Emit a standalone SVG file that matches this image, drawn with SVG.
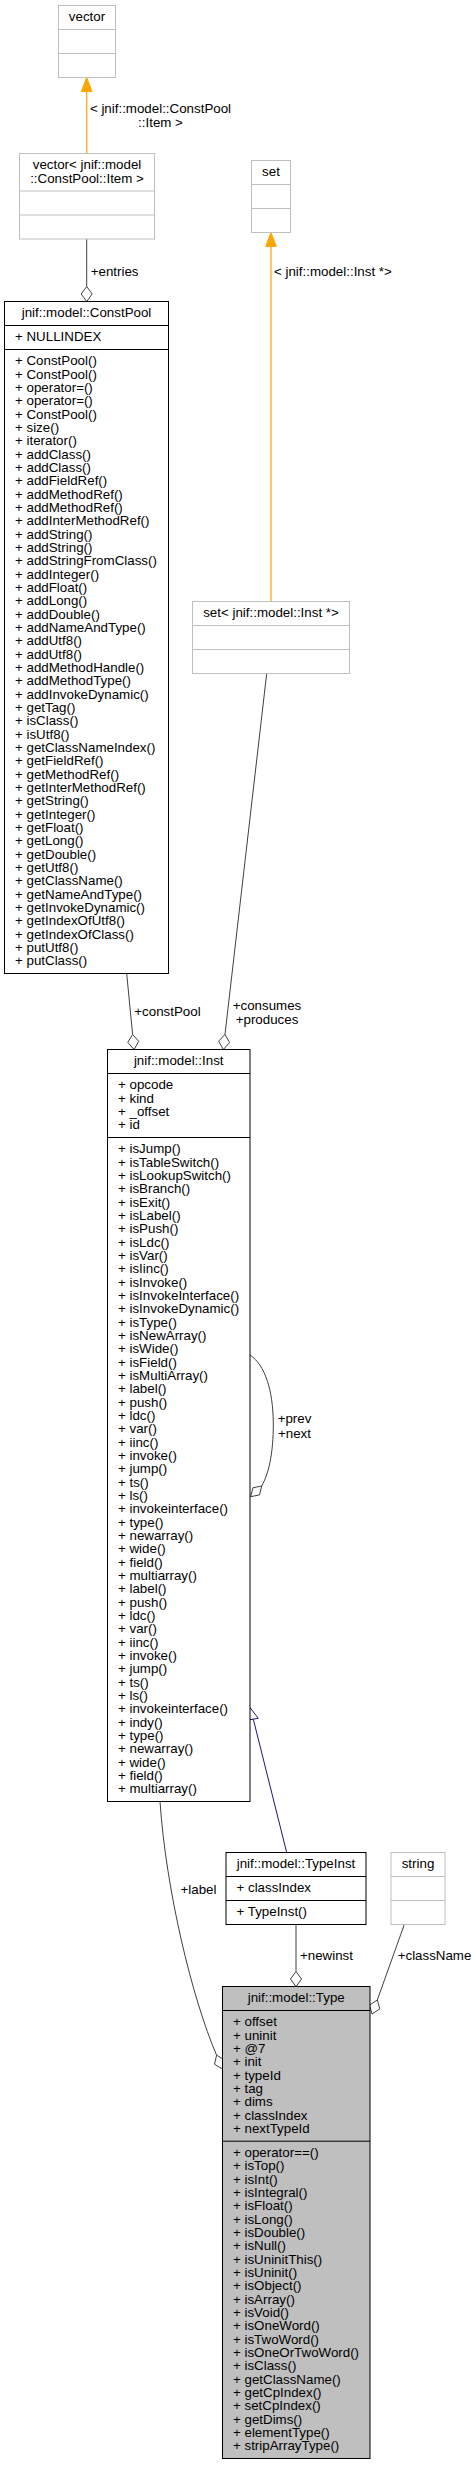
<svg xmlns="http://www.w3.org/2000/svg" width="476" height="2465" viewBox="0 0 476 2465">
<style>
text{font-family:"Liberation Sans",Arial,Helvetica,sans-serif;font-size:13.33px;fill:#000}
.c{text-anchor:middle}
.bk{fill:#fff;stroke:#000;stroke-width:1}
.gr{fill:#fff;stroke:#bfbfbf;stroke-width:1}
.ty{fill:#bfbfbf;stroke:#000;stroke-width:1}
.lk{fill:none;stroke:#000;stroke-width:1}
.lg{fill:none;stroke:#bfbfbf;stroke-width:1}
.agg{fill:none;stroke:#404040;stroke-width:1}
.dia{fill:#fff;stroke:#404040;stroke-width:1}
.tpl{fill:none;stroke:#ffa500;stroke-width:1.2}
.tph{fill:#ffa500;stroke:#ffa500}
.inh{fill:none;stroke:#191970;stroke-width:1}
.inhh{fill:#fff;stroke:#191970;stroke-width:1}
</style>
<rect width="476" height="2465" fill="#fff"/>
<g id="connectors">
  <line class="tpl" x1="86.7" y1="153.5" x2="86.7" y2="91.5"/>
  <polygon class="tph" points="86.7,77.5 81.4,91.5 92,91.5"/>
  <text class="c" x="160.5" y="112.8">&lt; jnif::model::ConstPool</text>
  <text class="c" x="160.5" y="127">::Item &gt;</text>
  <line class="agg" x1="86.7" y1="239" x2="86.7" y2="286.5"/>
  <polygon class="dia" points="86.7,301.5 81.2,294 86.7,286.5 92.2,294"/>
  <text x="90.7" y="275.5">+entries</text>
  <line class="tpl" x1="271" y1="601.5" x2="271" y2="246.5"/>
  <polygon class="tph" points="271,232.5 265.7,246.5 276.3,246.5"/>
  <text x="274" y="275.5">&lt; jnif::model::Inst *&gt;</text>
  <line class="agg" x1="126.7" y1="973.5" x2="132.6" y2="1034.4"/>
  <polygon class="dia" points="134,1049.5 138.75,1041.3 132.6,1034.4 127.8,1042.4"/>
  <text x="134.3" y="1016.3">+constPool</text>
  <line class="agg" x1="266.7" y1="673.5" x2="225" y2="1034.4"/>
  <polygon class="dia" points="223.3,1049.5 229.6,1042.5 225,1034.4 218.7,1041.2"/>
  <text class="c" x="267" y="1010">+consumes</text>
  <text class="c" x="267" y="1024">+produces</text>
  <path class="agg" d="M250,1355 C265,1365 273,1390 273.3,1423 C273.5,1455 268,1475 261.7,1486"/>
  <polygon class="dia" points="250.7,1496.7 259.5,1494.9 261.7,1486 252.9,1487.8"/>
  <text class="c" x="294.5" y="1423">+prev</text>
  <text class="c" x="294.5" y="1437.5">+next</text>
  <line class="inh" x1="286.7" y1="1852.5" x2="253.3" y2="1719.2"/>
  <polygon class="inhh" points="249.3,1706.7 258.3,1718.3 248.3,1720"/>
  <path class="agg" d="M160,1801.5 C166,1890 192,1998 216.6,2055.2"/>
  <polygon class="dia" points="222.5,2069 224.6,2059.9 216.6,2055.2 214.5,2064.3"/>
  <text x="180.5" y="1894">+label</text>
  <line class="agg" x1="296" y1="1924.5" x2="296" y2="1971.5"/>
  <polygon class="dia" points="296,1986.5 290.5,1979 296,1971.5 301.5,1979"/>
  <text x="300" y="1959.6">+newinst</text>
  <line class="agg" x1="404.3" y1="1924.5" x2="377.3" y2="2000"/>
  <polygon class="dia" points="372,2014 379.8,2008.9 377.3,2000 369.5,2005.1"/>
  <text x="397.7" y="1959.6">+className</text>
</g>
<g id="node-vector">
  <rect class="gr" x="58.5" y="5.5" width="57" height="72"/>
  <line class="lg" x1="58.5" y1="29.5" x2="115.5" y2="29.5"/>
  <line class="lg" x1="58.5" y1="53.5" x2="115.5" y2="53.5"/>
  <text class="c" x="87" y="21.2">vector</text>
</g>
<g id="node-vector-item">
  <rect class="gr" x="19.5" y="153.5" width="135" height="85.5"/>
  <line class="lg" x1="19.5" y1="191" x2="154.5" y2="191"/>
  <line class="lg" x1="19.5" y1="215" x2="154.5" y2="215"/>
  <text class="c" x="87" y="169.2">vector&lt; jnif::model</text>
  <text class="c" x="87" y="182.5">::ConstPool::Item &gt;</text>
</g>
<g id="node-set">
  <rect class="gr" x="251.5" y="160.5" width="39" height="72"/>
  <line class="lg" x1="251.5" y1="184.5" x2="290.5" y2="184.5"/>
  <line class="lg" x1="251.5" y1="208.5" x2="290.5" y2="208.5"/>
  <text class="c" x="271" y="176.2">set</text>
</g>
<g id="node-set-inst">
  <rect class="gr" x="192.5" y="601.5" width="157" height="72"/>
  <line class="lg" x1="192.5" y1="625.5" x2="349.5" y2="625.5"/>
  <line class="lg" x1="192.5" y1="649.5" x2="349.5" y2="649.5"/>
  <text class="c" x="271" y="617.2">set&lt; jnif::model::Inst *&gt;</text>
</g>
<g id="node-constpool">
  <rect class="bk" x="4.5" y="301.5" width="164" height="672"/>
  <line class="lk" x1="4.5" y1="325.5" x2="168.5" y2="325.5"/>
  <line class="lk" x1="4.5" y1="349.5" x2="168.5" y2="349.5"/>
  <text class="c" x="86.5" y="317.2">jnif::model::ConstPool</text>
  <text x="15" y="341.2">+ NULLINDEX</text>
  <text x="15" y="365.2"><tspan x="15">+ ConstPool()</tspan><tspan x="15" dy="13.333">+ ConstPool()</tspan><tspan x="15" dy="13.333">+ operator=()</tspan><tspan x="15" dy="13.333">+ operator=()</tspan><tspan x="15" dy="13.333">+ ConstPool()</tspan><tspan x="15" dy="13.333">+ size()</tspan><tspan x="15" dy="13.333">+ iterator()</tspan><tspan x="15" dy="13.333">+ addClass()</tspan><tspan x="15" dy="13.333">+ addClass()</tspan><tspan x="15" dy="13.333">+ addFieldRef()</tspan><tspan x="15" dy="13.333">+ addMethodRef()</tspan><tspan x="15" dy="13.333">+ addMethodRef()</tspan><tspan x="15" dy="13.333">+ addInterMethodRef()</tspan><tspan x="15" dy="13.333">+ addString()</tspan><tspan x="15" dy="13.333">+ addString()</tspan><tspan x="15" dy="13.333">+ addStringFromClass()</tspan><tspan x="15" dy="13.333">+ addInteger()</tspan><tspan x="15" dy="13.333">+ addFloat()</tspan><tspan x="15" dy="13.333">+ addLong()</tspan><tspan x="15" dy="13.333">+ addDouble()</tspan><tspan x="15" dy="13.333">+ addNameAndType()</tspan><tspan x="15" dy="13.333">+ addUtf8()</tspan><tspan x="15" dy="13.333">+ addUtf8()</tspan><tspan x="15" dy="13.333">+ addMethodHandle()</tspan><tspan x="15" dy="13.333">+ addMethodType()</tspan><tspan x="15" dy="13.333">+ addInvokeDynamic()</tspan><tspan x="15" dy="13.333">+ getTag()</tspan><tspan x="15" dy="13.333">+ isClass()</tspan><tspan x="15" dy="13.333">+ isUtf8()</tspan><tspan x="15" dy="13.333">+ getClassNameIndex()</tspan><tspan x="15" dy="13.333">+ getFieldRef()</tspan><tspan x="15" dy="13.333">+ getMethodRef()</tspan><tspan x="15" dy="13.333">+ getInterMethodRef()</tspan><tspan x="15" dy="13.333">+ getString()</tspan><tspan x="15" dy="13.333">+ getInteger()</tspan><tspan x="15" dy="13.333">+ getFloat()</tspan><tspan x="15" dy="13.333">+ getLong()</tspan><tspan x="15" dy="13.333">+ getDouble()</tspan><tspan x="15" dy="13.333">+ getUtf8()</tspan><tspan x="15" dy="13.333">+ getClassName()</tspan><tspan x="15" dy="13.333">+ getNameAndType()</tspan><tspan x="15" dy="13.333">+ getInvokeDynamic()</tspan><tspan x="15" dy="13.333">+ getIndexOfUtf8()</tspan><tspan x="15" dy="13.333">+ getIndexOfClass()</tspan><tspan x="15" dy="13.333">+ putUtf8()</tspan><tspan x="15" dy="13.333">+ putClass()</tspan></text>
</g>
<g id="node-inst">
  <rect class="bk" x="107.5" y="1049.5" width="142.5" height="752"/>
  <line class="lk" x1="107.5" y1="1073.5" x2="250" y2="1073.5"/>
  <line class="lk" x1="107.5" y1="1137.5" x2="250" y2="1137.5"/>
  <text class="c" x="178.7" y="1065.2">jnif::model::Inst</text>
  <text x="118" y="1089.2"><tspan x="118">+ opcode</tspan><tspan x="118" dy="13.333">+ kind</tspan><tspan x="118" dy="13.333">+ _offset</tspan><tspan x="118" dy="13.333">+ id</tspan></text>
  <text x="118" y="1153.2"><tspan x="118">+ isJump()</tspan><tspan x="118" dy="13.333">+ isTableSwitch()</tspan><tspan x="118" dy="13.333">+ isLookupSwitch()</tspan><tspan x="118" dy="13.333">+ isBranch()</tspan><tspan x="118" dy="13.333">+ isExit()</tspan><tspan x="118" dy="13.333">+ isLabel()</tspan><tspan x="118" dy="13.333">+ isPush()</tspan><tspan x="118" dy="13.333">+ isLdc()</tspan><tspan x="118" dy="13.333">+ isVar()</tspan><tspan x="118" dy="13.333">+ isIinc()</tspan><tspan x="118" dy="13.333">+ isInvoke()</tspan><tspan x="118" dy="13.333">+ isInvokeInterface()</tspan><tspan x="118" dy="13.333">+ isInvokeDynamic()</tspan><tspan x="118" dy="13.333">+ isType()</tspan><tspan x="118" dy="13.333">+ isNewArray()</tspan><tspan x="118" dy="13.333">+ isWide()</tspan><tspan x="118" dy="13.333">+ isField()</tspan><tspan x="118" dy="13.333">+ isMultiArray()</tspan><tspan x="118" dy="13.333">+ label()</tspan><tspan x="118" dy="13.333">+ push()</tspan><tspan x="118" dy="13.333">+ ldc()</tspan><tspan x="118" dy="13.333">+ var()</tspan><tspan x="118" dy="13.333">+ iinc()</tspan><tspan x="118" dy="13.333">+ invoke()</tspan><tspan x="118" dy="13.333">+ jump()</tspan><tspan x="118" dy="13.333">+ ts()</tspan><tspan x="118" dy="13.333">+ ls()</tspan><tspan x="118" dy="13.333">+ invokeinterface()</tspan><tspan x="118" dy="13.333">+ type()</tspan><tspan x="118" dy="13.333">+ newarray()</tspan><tspan x="118" dy="13.333">+ wide()</tspan><tspan x="118" dy="13.333">+ field()</tspan><tspan x="118" dy="13.333">+ multiarray()</tspan><tspan x="118" dy="13.333">+ label()</tspan><tspan x="118" dy="13.333">+ push()</tspan><tspan x="118" dy="13.333">+ ldc()</tspan><tspan x="118" dy="13.333">+ var()</tspan><tspan x="118" dy="13.333">+ iinc()</tspan><tspan x="118" dy="13.333">+ invoke()</tspan><tspan x="118" dy="13.333">+ jump()</tspan><tspan x="118" dy="13.333">+ ts()</tspan><tspan x="118" dy="13.333">+ ls()</tspan><tspan x="118" dy="13.333">+ invokeinterface()</tspan><tspan x="118" dy="13.333">+ indy()</tspan><tspan x="118" dy="13.333">+ type()</tspan><tspan x="118" dy="13.333">+ newarray()</tspan><tspan x="118" dy="13.333">+ wide()</tspan><tspan x="118" dy="13.333">+ field()</tspan><tspan x="118" dy="13.333">+ multiarray()</tspan></text>
</g>
<g id="node-typeinst">
  <rect class="bk" x="226" y="1852.5" width="140" height="72"/>
  <line class="lk" x1="226" y1="1876.5" x2="366" y2="1876.5"/>
  <line class="lk" x1="226" y1="1900.5" x2="366" y2="1900.5"/>
  <text class="c" x="296" y="1868.2">jnif::model::TypeInst</text>
  <text x="236.5" y="1892.2">+ classIndex</text>
  <text x="236.5" y="1916.2">+ TypeInst()</text>
</g>
<g id="node-string">
  <rect class="gr" x="391" y="1852.5" width="54" height="72"/>
  <line class="lg" x1="391" y1="1876.5" x2="445" y2="1876.5"/>
  <line class="lg" x1="391" y1="1900.5" x2="445" y2="1900.5"/>
  <text class="c" x="418" y="1868.2">string</text>
</g>
<g id="node-type">
  <rect class="ty" x="222.5" y="1986.5" width="147.5" height="472"/>
  <line class="lk" x1="222.5" y1="2010.5" x2="370" y2="2010.5"/>
  <line class="lk" x1="222.5" y1="2141.2" x2="370" y2="2141.2"/>
  <text class="c" x="296.2" y="2002.2">jnif::model::Type</text>
  <text x="233" y="2026.2"><tspan x="233">+ offset</tspan><tspan x="233" dy="13.333">+ uninit</tspan><tspan x="233" dy="13.333">+ @7</tspan><tspan x="233" dy="13.333">+ init</tspan><tspan x="233" dy="13.333">+ typeId</tspan><tspan x="233" dy="13.333">+ tag</tspan><tspan x="233" dy="13.333">+ dims</tspan><tspan x="233" dy="13.333">+ classIndex</tspan><tspan x="233" dy="13.333">+ nextTypeId</tspan></text>
  <text x="233" y="2156.9"><tspan x="233">+ operator==()</tspan><tspan x="233" dy="13.333">+ isTop()</tspan><tspan x="233" dy="13.333">+ isInt()</tspan><tspan x="233" dy="13.333">+ isIntegral()</tspan><tspan x="233" dy="13.333">+ isFloat()</tspan><tspan x="233" dy="13.333">+ isLong()</tspan><tspan x="233" dy="13.333">+ isDouble()</tspan><tspan x="233" dy="13.333">+ isNull()</tspan><tspan x="233" dy="13.333">+ isUninitThis()</tspan><tspan x="233" dy="13.333">+ isUninit()</tspan><tspan x="233" dy="13.333">+ isObject()</tspan><tspan x="233" dy="13.333">+ isArray()</tspan><tspan x="233" dy="13.333">+ isVoid()</tspan><tspan x="233" dy="13.333">+ isOneWord()</tspan><tspan x="233" dy="13.333">+ isTwoWord()</tspan><tspan x="233" dy="13.333">+ isOneOrTwoWord()</tspan><tspan x="233" dy="13.333">+ isClass()</tspan><tspan x="233" dy="13.333">+ getClassName()</tspan><tspan x="233" dy="13.333">+ getCpIndex()</tspan><tspan x="233" dy="13.333">+ setCpIndex()</tspan><tspan x="233" dy="13.333">+ getDims()</tspan><tspan x="233" dy="13.333">+ elementType()</tspan><tspan x="233" dy="13.333">+ stripArrayType()</tspan></text>
</g>
</svg>
